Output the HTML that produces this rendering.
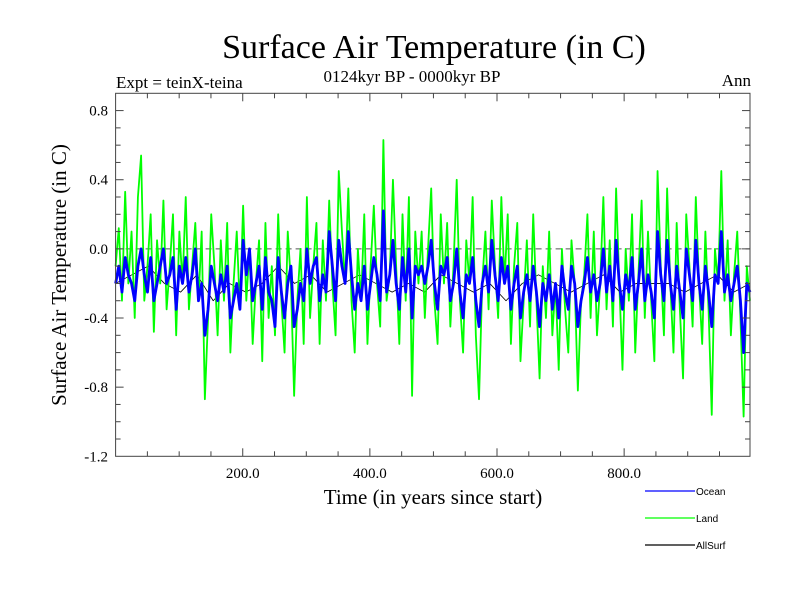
<!DOCTYPE html>
<html><head><meta charset="utf-8"><style>
body{margin:0;background:#fff;}
svg text{font-family:"Liberation Serif",serif;fill:#000;}
</style></head><body>
<svg id="chart" width="800" height="600" xmlns="http://www.w3.org/2000/svg">
<rect width="800" height="600" fill="#fff"/>
<text x="434" y="58" font-size="34" text-anchor="middle">Surface Air Temperature (in C)</text>
<text x="412" y="82" font-size="17" text-anchor="middle">0124kyr BP - 0000kyr BP</text>
<text x="116" y="88" font-size="17">Expt = teinX-teina</text>
<text x="751" y="86" font-size="17" text-anchor="end">Ann</text>
<text x="433" y="504" font-size="21" text-anchor="middle">Time (in years since start)</text>
<text transform="translate(66,275) rotate(-90)" font-size="21" text-anchor="middle">Surface Air Temperature (in C)</text>
<g id="marks"></g>
<g id="axes"></g>
<g>
<line x1="645" y1="491" x2="695" y2="491" stroke="#0000ff" stroke-width="1.2"/>
<text x="696" y="495" font-size="10" style="font-family:'Liberation Sans',sans-serif">Ocean</text>
<line x1="645" y1="518" x2="695" y2="518" stroke="#00ff00" stroke-width="1.2"/>
<text x="696" y="522" font-size="10" style="font-family:'Liberation Sans',sans-serif">Land</text>
<line x1="645" y1="545" x2="695" y2="545" stroke="#000" stroke-width="1.2"/>
<text x="696" y="549" font-size="10" style="font-family:'Liberation Sans',sans-serif">AllSurf</text>
</g>
</svg>
<script>
const xTicks=[200,400,600,800];
const xTickLabels=["200.0","400.0","600.0","800.0"];
const yTicks=[0.8,0.4,0.0,-0.4,-0.8,-1.2];
const yTickLabels=["0.8","0.4","0.0","-0.4","-0.8","-1.2"];
const land=[-0.1,0.12,-0.3,0.33,-0.2,0.1,-0.4,0.3,0.54,-0.3,-0.1,0.2,-0.48,0.05,-0.2,0.28,-0.35,-0.1,0.2,-0.5,
0.1,-0.2,0.3,-0.35,-0.1,0.15,-0.3,0.1,-0.87,-0.4,0.2,-0.1,-0.5,0.05,-0.3,0.15,-0.6,-0.2,0.1,-0.35,
0.25,-0.3,0.0,-0.55,-0.2,0.05,-0.65,0.15,-0.4,-0.1,-0.5,0.2,-0.3,-0.6,0.1,-0.2,-0.85,-0.3,0.0,-0.55,
0.3,-0.4,-0.1,0.15,-0.55,0.05,-0.3,0.28,-0.2,-0.5,0.45,0.1,-0.2,0.35,-0.3,-0.6,0.0,-0.3,0.2,-0.55,
-0.1,0.25,-0.2,-0.45,0.63,-0.3,-0.15,0.4,-0.1,-0.55,0.2,-0.3,0.3,-0.85,0.1,-0.2,0.1,-0.4,0.0,0.35,
-0.3,-0.55,0.2,-0.2,0.15,-0.45,-0.1,0.4,-0.3,-0.6,0.05,-0.2,0.3,-0.5,-0.87,-0.2,0.1,-0.35,0.28,-0.1,
-0.4,0.3,-0.2,0.2,-0.55,-0.1,0.15,-0.65,-0.3,0.05,-0.45,0.2,-0.3,-0.75,-0.1,-0.4,0.1,-0.5,-0.2,-0.7,
0.0,-0.35,-0.6,0.05,-0.2,-0.82,-0.3,-0.15,0.2,-0.4,0.1,-0.5,-0.2,0.3,-0.35,0.05,-0.45,0.35,-0.2,-0.7,
0.0,-0.3,0.2,-0.6,-0.15,0.28,-0.4,0.1,-0.3,-0.65,0.45,-0.1,-0.5,0.35,-0.2,-0.6,0.15,-0.35,-0.75,0.2,
-0.1,-0.45,0.3,-0.2,-0.55,0.1,-0.35,-0.96,0.0,-0.2,0.45,-0.3,0.05,-0.5,-0.15,0.1,-0.4,-0.97,-0.1,-0.3];
const ocean=[-0.2,-0.1,-0.25,-0.05,-0.15,-0.2,-0.3,-0.1,0.0,-0.15,-0.25,-0.05,-0.3,-0.2,-0.1,0.0,-0.2,-0.15,-0.05,-0.35,
-0.1,-0.2,-0.05,-0.25,-0.15,0.0,-0.3,-0.2,-0.5,-0.35,-0.1,-0.2,-0.3,-0.15,-0.25,-0.1,-0.4,-0.3,-0.2,-0.35,
0.05,-0.15,0.0,-0.3,-0.2,-0.1,-0.35,-0.05,-0.25,-0.3,-0.45,-0.05,-0.25,-0.4,-0.2,-0.1,-0.45,-0.35,-0.2,-0.3,
0.0,-0.2,-0.1,-0.05,-0.3,-0.15,-0.25,0.1,-0.1,-0.3,0.05,-0.1,-0.2,0.1,-0.15,-0.35,-0.2,-0.3,-0.1,-0.35,
-0.2,-0.05,-0.15,-0.3,0.22,-0.25,-0.15,0.05,-0.2,-0.35,-0.05,-0.25,0.0,-0.4,-0.1,-0.15,-0.1,-0.2,-0.1,0.05,
-0.2,-0.35,-0.1,-0.15,-0.05,-0.3,-0.2,0.0,-0.25,-0.4,-0.15,-0.2,-0.05,-0.3,-0.45,-0.2,-0.1,-0.25,0.05,-0.15,
-0.3,-0.05,-0.2,-0.1,-0.35,-0.2,-0.1,-0.4,-0.25,-0.15,-0.3,-0.1,-0.25,-0.45,-0.2,-0.3,-0.15,-0.35,-0.2,-0.4,
-0.1,-0.25,-0.35,-0.1,-0.2,-0.45,-0.3,-0.2,-0.05,-0.25,-0.15,-0.3,-0.2,0.0,-0.25,-0.1,-0.3,0.05,-0.2,-0.35,
-0.15,-0.25,-0.05,-0.35,-0.2,0.0,-0.3,-0.15,-0.25,-0.4,0.1,-0.15,-0.3,0.05,-0.2,-0.35,-0.1,-0.25,-0.4,0.0,
-0.15,-0.3,0.05,-0.2,-0.35,-0.1,-0.25,-0.45,-0.15,-0.2,0.1,-0.25,-0.15,-0.3,-0.2,-0.1,-0.3,-0.6,-0.2,-0.25];
const allSurf=[-0.2,-0.15,-0.1,-0.2,-0.25,-0.15,-0.3,-0.2,-0.25,-0.2,-0.1,-0.2,-0.15,-0.25,-0.2,-0.15,-0.2,-0.25,-0.2,-0.25,
-0.15,-0.2,-0.25,-0.2,-0.3,-0.2,-0.15,-0.2,-0.25,-0.2,-0.15,-0.25,-0.2,-0.2,-0.2,-0.25,-0.2,-0.15,-0.25,-0.2];

const L=115.6,R=750,T=93.3,B=456.3,XMIN=0,XMAX=998,YMIN=-1.2,YMAX=0.9;
const sx=v=>L+(v-XMIN)/(XMAX-XMIN)*(R-L);
const sy=v=>B-(v-YMIN)/(YMAX-YMIN)*(B-T);
const NS="http://www.w3.org/2000/svg";
const marks=document.getElementById('marks'),axes=document.getElementById('axes');
function mk(tag,attrs,parent){const e=document.createElementNS(NS,tag);for(const k in attrs)e.setAttribute(k,attrs[k]);parent.appendChild(e);return e;}
function series(vals,color,w,name){
  const pts=vals.map((v,i)=>sx(i*XMAX/(vals.length-1))+","+sy(v)).join(" ");
  const p=mk('polyline',{points:pts,fill:'none',stroke:color,'stroke-width':w,'stroke-linejoin':'round'},marks);
  
  
}
const z=mk('line',{x1:L,x2:R,y1:sy(0),y2:sy(0),stroke:'#555','stroke-dasharray':'6,4','stroke-width':1},marks);


series(allSurf,'#000',0.8,'allsurf-series');
series(land,'#00ff00',1.8,'land-series');
series(ocean,'#0000ff',2.8,'ocean-series');
const fr=mk('rect',{x:L,y:T,width:R-L,height:B-T,fill:'none',stroke:'#444','stroke-width':1},axes);


for(let v=50;v<XMAX;v+=50){const x=sx(v),len=(v%200===0)?8:5;
  mk('line',{x1:x,x2:x,y1:B,y2:B-len,stroke:'#444'},axes);mk('line',{x1:x,x2:x,y1:T,y2:T+len,stroke:'#444'},axes);}
for(let k=-11;k<=8;k++){const v=k/10,y=sy(v),len=(k%4===0)?8:5;
  mk('line',{x1:L,x2:L+len,y1:y,y2:y,stroke:'#444'},axes);mk('line',{x1:R,x2:R-len,y1:y,y2:y,stroke:'#444'},axes);}
xTicks.forEach((v,i)=>{const t=mk('text',{x:sx(v),y:478,'font-size':15,'text-anchor':'middle'},axes);t.textContent=xTickLabels[i];
  
  });
yTicks.forEach((v,i)=>{const t=mk('text',{x:108,y:sy(v)+5,'font-size':15,'text-anchor':'end'},axes);t.textContent=yTickLabels[i];
  
  });
</script>
</body></html>
